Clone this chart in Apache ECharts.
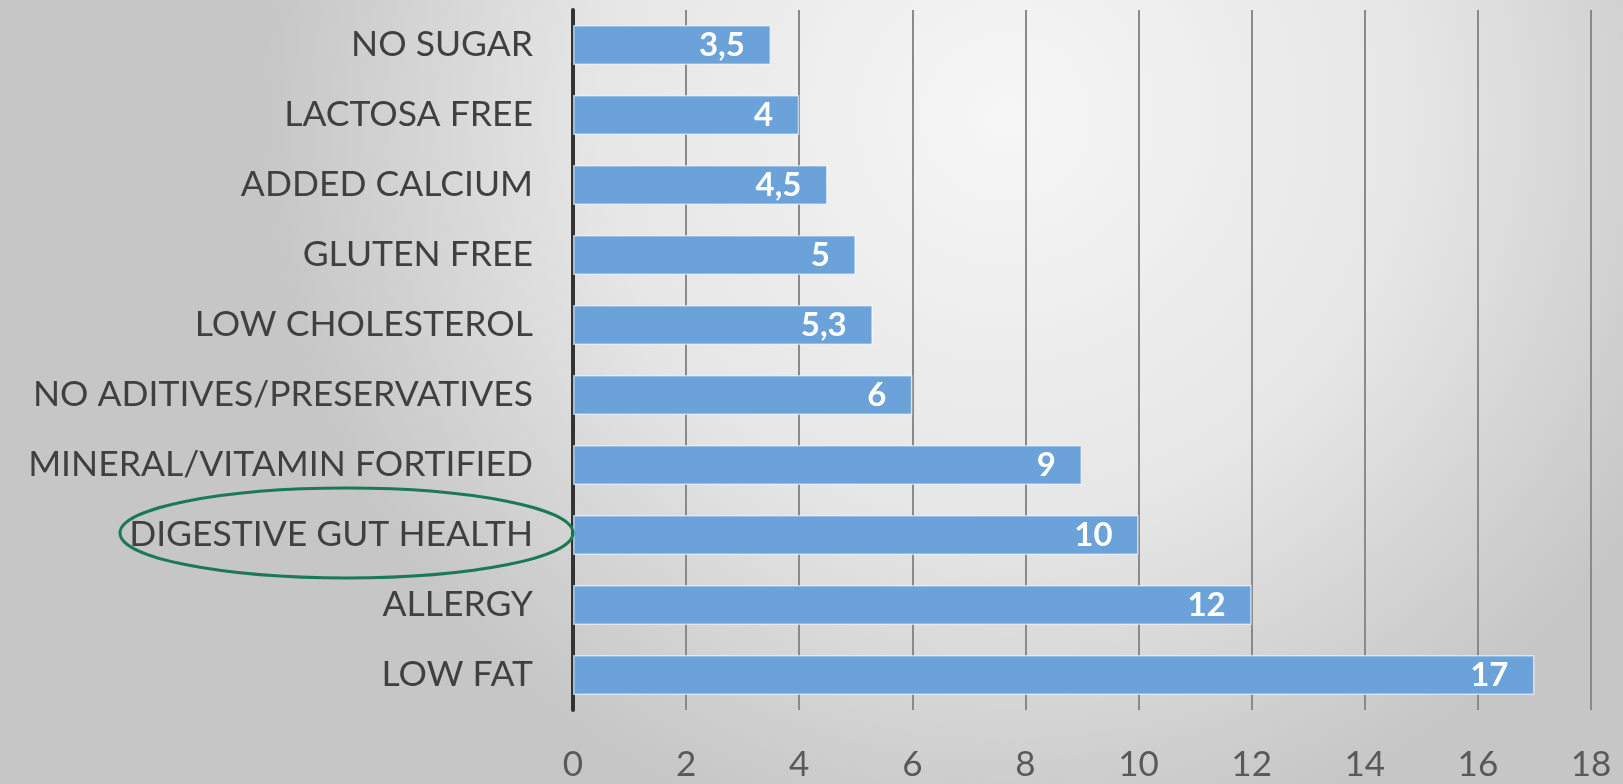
<!DOCTYPE html>
<html><head><meta charset="utf-8">
<script src="https://cdn.jsdelivr.net/npm/echarts@6/dist/echarts.min.js"></script>
<style>html,body{margin:0;padding:0;}#c{width:1623px;height:784px;}</style>
</head><body><div id="c"></div>
<script>
const categories = ["LOW FAT","ALLERGY","DIGESTIVE GUT HEALTH","MINERAL/VITAMIN FORTIFIED","NO ADITIVES/PRESERVATIVES","LOW CHOLESTEROL","GLUTEN FREE","ADDED CALCIUM","LACTOSA FREE","NO SUGAR"];
const values = [17,12,10,9,6,5.3,5,4.5,4,3.5];
const highlighted = "DIGESTIVE GUT HEALTH";

const chart = echarts.init(document.getElementById('c'));
const option = {
  animation:false,
  backgroundColor:{type:'radial',x:0.62,y:0.15,r:0.95,colorStops:[{offset:0,color:'#f6f6f6'},{offset:0.55,color:'#e6e6e6'},{offset:1,color:'#c6c6c6'}]},
  grid:{left:573,right:32,top:10,bottom:74},
  xAxis:{type:'value',min:0,max:18,interval:2,
    axisLine:{show:false},axisTick:{show:false},
    splitLine:{lineStyle:{color:'#8a8a8a',width:2}},
    axisLabel:{color:'#595959',fontSize:35,fontFamily:'Lato',margin:37,formatter:v=>String(v)}},
  yAxis:{type:'category',data:categories,
    axisLine:{lineStyle:{color:'#333',width:4}},axisTick:{show:false},
    axisLabel:{color:'#404040',fontSize:35.5,fontFamily:'Lato',margin:40}},
  series:[{type:'bar',data:values,barWidth:'57%',
    itemStyle:{color:'#6aa2d9',borderColor:'rgba(255,255,255,0.6)',borderWidth:1.5},
    label:{show:true,position:'insideRight',distance:26,color:'#fff',fontWeight:'bold',fontSize:33,fontFamily:'Lato',
      formatter:p=>String(p.value).replace('.',',')}}]
};
chart.setOption(option);
const idx = categories.indexOf(highlighted);
const cy = chart.convertToPixel({yAxisIndex:0}, categories[idx]);
const x0 = chart.convertToPixel({xAxisIndex:0}, 0);
chart.setOption({graphic:[{type:'ellipse',shape:{cx:(x0+120)/2,cy:cy-2,rx:(x0-120)/2,ry:45},style:{fill:'none',stroke:'#1b7a55',lineWidth:3},z:100}]});
</script></body></html>
